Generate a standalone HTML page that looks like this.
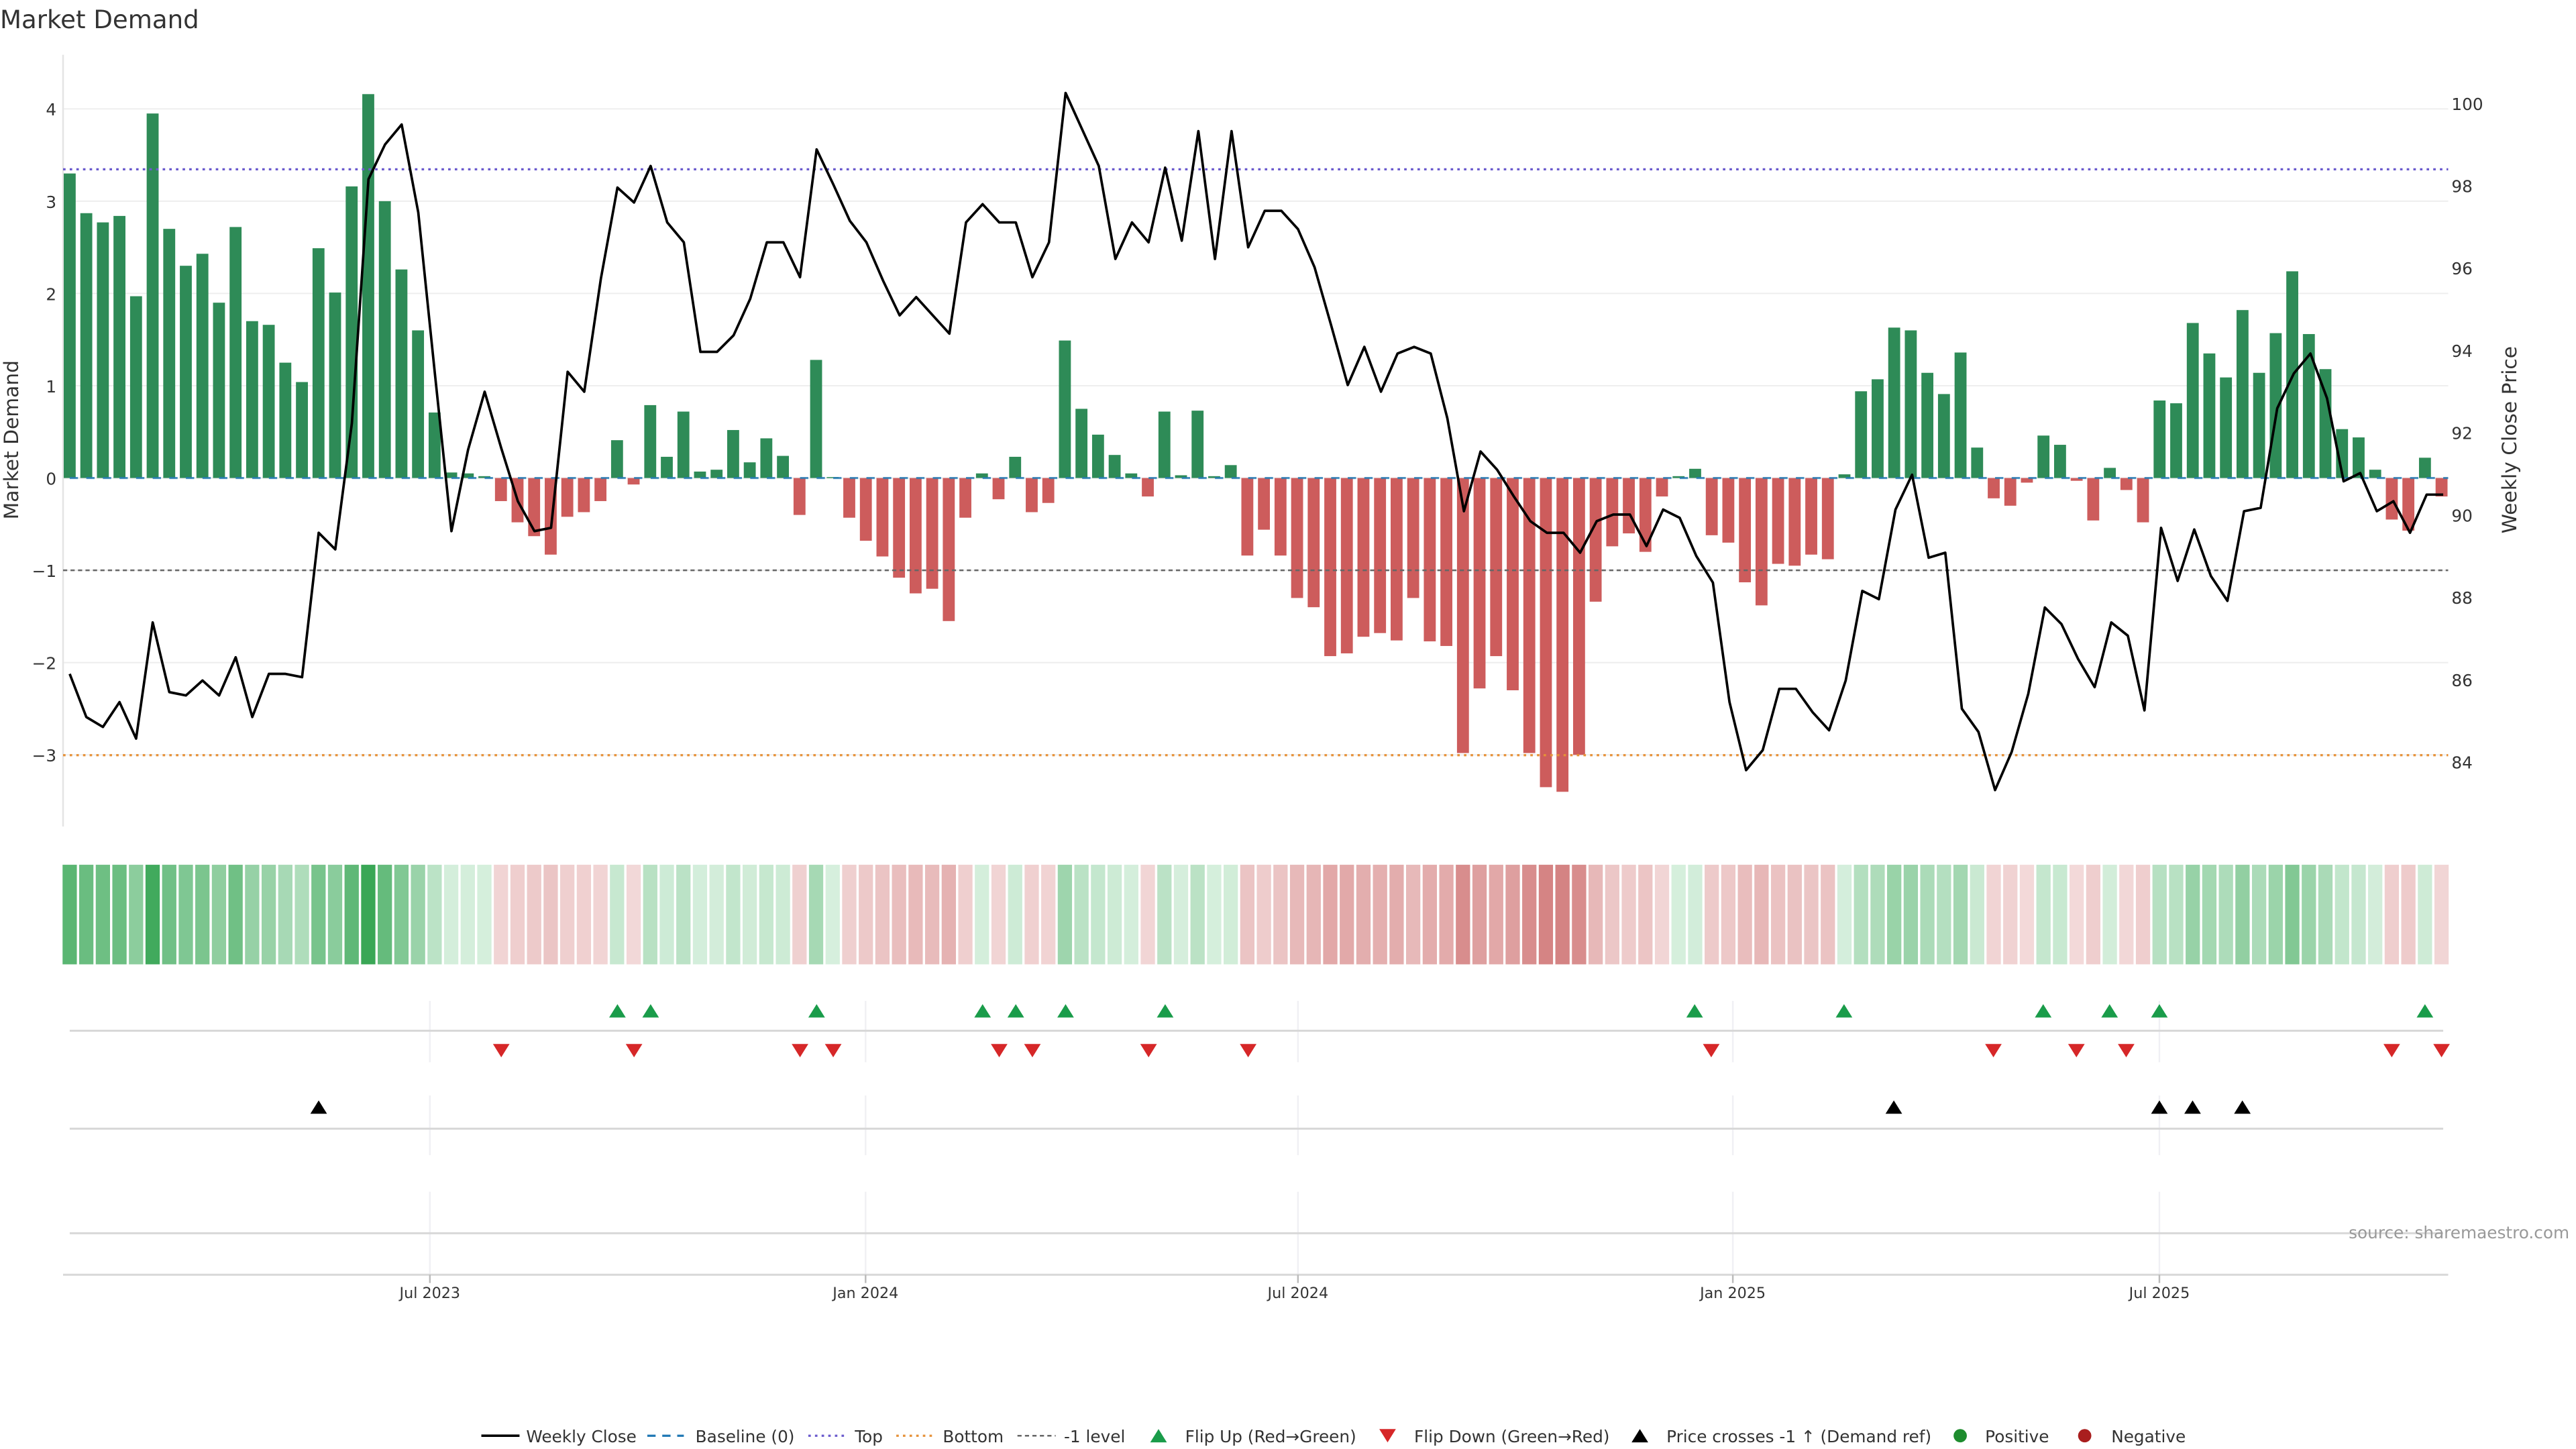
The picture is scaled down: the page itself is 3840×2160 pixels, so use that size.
<!DOCTYPE html>
<html><head><meta charset="utf-8"><style>
html,body{margin:0;padding:0;background:#fff;}
svg{display:block;font-family:"DejaVu Sans","Liberation Sans",sans-serif;}
</style></head><body>
<svg id="s" width="3840" height="2160" viewBox="0 0 1552 873" xmlns="http://www.w3.org/2000/svg"></svg>
<script>
const V=[3.3,2.87,2.77,2.84,1.97,3.95,2.7,2.3,2.43,1.9,2.72,1.7,1.66,1.25,1.04,2.49,2.01,3.16,4.16,3.0,2.26,1.6,0.71,0.06,0.05,0.02,-0.25,-0.48,-0.63,-0.83,-0.42,-0.37,-0.25,0.41,-0.07,0.79,0.23,0.72,0.07,0.09,0.52,0.17,0.43,0.24,-0.4,1.28,0.01,-0.43,-0.68,-0.85,-1.08,-1.25,-1.2,-1.55,-0.43,0.05,-0.23,0.23,-0.37,-0.27,1.49,0.75,0.47,0.25,0.05,-0.2,0.72,0.03,0.73,0.02,0.14,-0.84,-0.56,-0.84,-1.3,-1.4,-1.93,-1.9,-1.72,-1.68,-1.76,-1.3,-1.77,-1.82,-2.98,-2.28,-1.93,-2.3,-2.98,-3.35,-3.4,-3.0,-1.34,-0.74,-0.6,-0.8,-0.2,0.02,0.1,-0.62,-0.7,-1.13,-1.38,-0.93,-0.95,-0.83,-0.88,0.04,0.94,1.07,1.63,1.6,1.14,0.91,1.36,0.33,-0.22,-0.3,-0.05,0.46,0.36,-0.03,-0.46,0.11,-0.13,-0.48,0.84,0.81,1.68,1.35,1.09,1.82,1.14,1.57,2.24,1.56,1.18,0.53,0.44,0.09,-0.45,-0.57,0.22,-0.2];
const P=[[42,406],[52,432],[62,438],[72,423],[82,445],[92,375],[102,417],[112,419],[122,410],[132,419],[142,396],[152,432],[162,406],[172,406],[182,408],[192,321],[202,331],[212,255],[222,108],[232,87],[242,75],[252,128],[262,225],[272,320],[282,271],[292,236],[302,270],[312,302],[322,320],[332,318],[342,224],[352,236],[362,168],[372,113],[382,122],[392,100],[402,134],[412,146],[422,212],[432,212],[442,202],[452,180],[462,146],[472,146],[482,167],[492,90],[502,111],[512,133],[522,146],[532,169],[542,190],[552,179],[562,190],[572,201],[582,134],[592,123],[602,134],[612,134],[622,167],[632,146],[642,56],[652,78],[662,100],[672,156],[682,134],[692,146],[702,101],[712,145],[722,79],[732,156],[742,79],[752,149],[762,127],[772,127],[782,138],[792,161],[802,196],[812,232],[822,209],[832,236],[842,213],[852,209],[862,213],[872,252],[882,308],[892,272],[902,283],[912,299],[922,314],[932,321],[942,321],[952,333],[962,314],[972,310],[982,310],[992,329],[1002,307],[1012,312],[1022,335],[1032,351],[1042,423],[1052,464],[1062,452],[1072,415],[1082,415],[1092,429],[1102,440],[1112,410],[1122,356],[1132,361],[1142,307],[1152,286],[1162,336],[1172,333],[1182,427],[1192,441],[1202,476],[1212,453],[1222,418],[1232,366],[1242,376],[1252,397],[1262,414],[1272,375],[1282,383],[1292,428],[1302,318],[1312,350],[1322,319],[1332,347],[1342,362],[1352,308],[1362,306],[1372,246],[1382,225],[1392,213],[1402,240],[1412,290],[1422,285],[1432,308],[1442,302],[1452,321],[1462,298],[1472,298]];
let h='';
const Y=v=>288-v*55.6;
h+=`<text x="0" y="17" font-size="15" fill="#333">Market Demand</text>`;
// grid
[4,3,2,1,0,-1,-2,-3].forEach(t=>{h+=`<line x1="38" x2="1475" y1="${Y(t)}" y2="${Y(t)}" stroke="#eeeeee" stroke-width="0.8"/><text x="34" y="${Y(t)+4}" font-size="10" fill="#333" text-anchor="end">${t<0?'\u2212'+(-t):t}</text>`;});
for(let p=84;p<=100;p+=2){const y=459-(p-84)*24.8;h+=`<text x="1477" y="${y+4}" font-size="10" fill="#333">${p}</text>`;}
h+=`<line x1="38" x2="38" y1="33" y2="498" stroke="#e4e4e4"/>`;
h+=`<text transform="translate(11,265) rotate(-90)" font-size="12" fill="#333" text-anchor="middle">Market Demand</text>`;
h+=`<text transform="translate(1516,265) rotate(-90)" font-size="12" fill="#333" text-anchor="middle">Weekly Close Price</text>`;
const n=V.length, sp=(1471-42)/(n-1);
V.forEach((v,i)=>{const x=42+sp*i;const y0=Y(0),y1=Y(v);
h+=`<rect x="${x-3.6}" y="${Math.min(y0,y1)}" width="7.2" height="${Math.max(Math.abs(y1-y0),0.6)}" fill="${v>=0?'#2e8b57':'#cd5c5c'}"/>`;
const t=Math.min(Math.abs(v)/4.2,1);let c;
if(v>=0){c=`rgb(${Math.round(214-(214-56)*t)},${Math.round(239-(239-166)*t)},${Math.round(221-(221-85)*t)})`;}
else{c=`rgb(${Math.round(243-(243-205)*t)},${Math.round(218-(218-110)*t)},${Math.round(218-(218-110)*t)})`;}
h+=`<rect x="${x-4.3}" y="521" width="8.6" height="60" fill="${c}"/>`;});
h+=`<line x1="38" x2="1475" y1="102" y2="102" stroke="#6a5acd" stroke-width="1.3" stroke-dasharray="1.5,2.5"/>`;
h+=`<line x1="38" x2="1475" y1="455" y2="455" stroke="#e69138" stroke-width="1.3" stroke-dasharray="1.5,2.5"/>`;
h+=`<line x1="38" x2="1475" y1="343.6" y2="343.6" stroke="#666" stroke-width="1" stroke-dasharray="2.5,2"/>`;
h+=`<line x1="42" x2="1475" y1="288" y2="288" stroke="#1f77b4" stroke-width="1.3" stroke-dasharray="5,5" opacity="0.8"/>`;
h+=`<polyline fill="none" stroke="#000" stroke-width="1.5" stroke-linejoin="round" points="${P.map(p=>p.join(',')).join(' ')}"/>`;
// lower panels
[259,521.5,782,1044,1301].forEach(x=>{h+=`<line x1="${x}" x2="${x}" y1="603" y2="640" stroke="#f0f0f4"/><line x1="${x}" x2="${x}" y1="660" y2="696" stroke="#f0f0f4"/><line x1="${x}" x2="${x}" y1="718" y2="768" stroke="#f0f0f4"/>`;});
[621,680,743].forEach(y=>{h+=`<line x1="42" x2="1472" y1="${y}" y2="${y}" stroke="#d8d8d8" stroke-width="1.2"/>`;});
h+=`<line x1="38" x2="1475" y1="768" y2="768" stroke="#d8d8d8" stroke-width="1.2"/>`;
const up=(x,y,c)=>`<polygon points="${x-5},${y+4} ${x+5},${y+4} ${x},${y-4}" fill="${c}"/>`;
const dn=(x,y,c)=>`<polygon points="${x-5},${y-4} ${x+5},${y-4} ${x},${y+4}" fill="${c}"/>`;
[372,392,492,592,612,642,702,1021,1111,1231,1271,1301,1461].forEach(x=>h+=up(x,609,'#1a9c4a'));
[302,382,482,502,602,622,692,752,1031,1201,1251,1281,1441,1471].forEach(x=>h+=dn(x,633,'#d62728'));
[192,1141,1301,1321,1351].forEach(x=>h+=up(x,667,'#000'));
[['Jul 2023',259],['Jan 2024',521.5],['Jul 2024',782],['Jan 2025',1044],['Jul 2025',1301]].forEach(([l,x])=>{h+=`<line x1="${x}" x2="${x}" y1="768" y2="773" stroke="#bbb"/><text x="${x}" y="782" font-size="9" fill="#333" text-anchor="middle">${l}</text>`;});
h+=`<text x="1548" y="746" font-size="10" fill="#999" text-anchor="end">source: sharemaestro.com</text>`;
// legend
const ly=868,fs=10;
h+=`<line x1="290" x2="313" y1="${ly-3}" y2="${ly-3}" stroke="#000" stroke-width="1.5"/><text x="317" y="${ly+1}" font-size="${fs}" fill="#333">Weekly Close</text>`;
h+=`<line x1="390" x2="412" y1="${ly-3}" y2="${ly-3}" stroke="#1f77b4" stroke-width="1.3" stroke-dasharray="5,4"/><text x="419" y="${ly+1}" font-size="${fs}" fill="#333">Baseline (0)</text>`;
h+=`<line x1="487" x2="510" y1="${ly-3}" y2="${ly-3}" stroke="#6a5acd" stroke-width="1.3" stroke-dasharray="1.5,2.5"/><text x="515" y="${ly+1}" font-size="${fs}" fill="#333">Top</text>`;
h+=`<line x1="540" x2="563" y1="${ly-3}" y2="${ly-3}" stroke="#e69138" stroke-width="1.3" stroke-dasharray="1.5,2.5"/><text x="568" y="${ly+1}" font-size="${fs}" fill="#333">Bottom</text>`;
h+=`<line x1="613" x2="636" y1="${ly-3}" y2="${ly-3}" stroke="#666" stroke-width="1" stroke-dasharray="2.5,2"/><text x="641" y="${ly+1}" font-size="${fs}" fill="#333">-1 level</text>`;
h+=up(698,ly-3,'#1a9c4a')+`<text x="714" y="${ly+1}" font-size="${fs}" fill="#333">Flip Up (Red→Green)</text>`;
h+=dn(836,ly-3,'#d62728')+`<text x="852" y="${ly+1}" font-size="${fs}" fill="#333">Flip Down (Green→Red)</text>`;
h+=up(988,ly-3,'#000')+`<text x="1004" y="${ly+1}" font-size="${fs}" fill="#333">Price crosses -1 ↑ (Demand ref)</text>`;
h+=`<circle cx="1181" cy="${ly-3}" r="4" fill="#1e8c2e"/><text x="1196" y="${ly+1}" font-size="${fs}" fill="#333">Positive</text>`;
h+=`<circle cx="1256" cy="${ly-3}" r="4" fill="#a91e1e"/><text x="1272" y="${ly+1}" font-size="${fs}" fill="#333">Negative</text>`;
document.getElementById('s').innerHTML=h;
</script>
</body></html>
